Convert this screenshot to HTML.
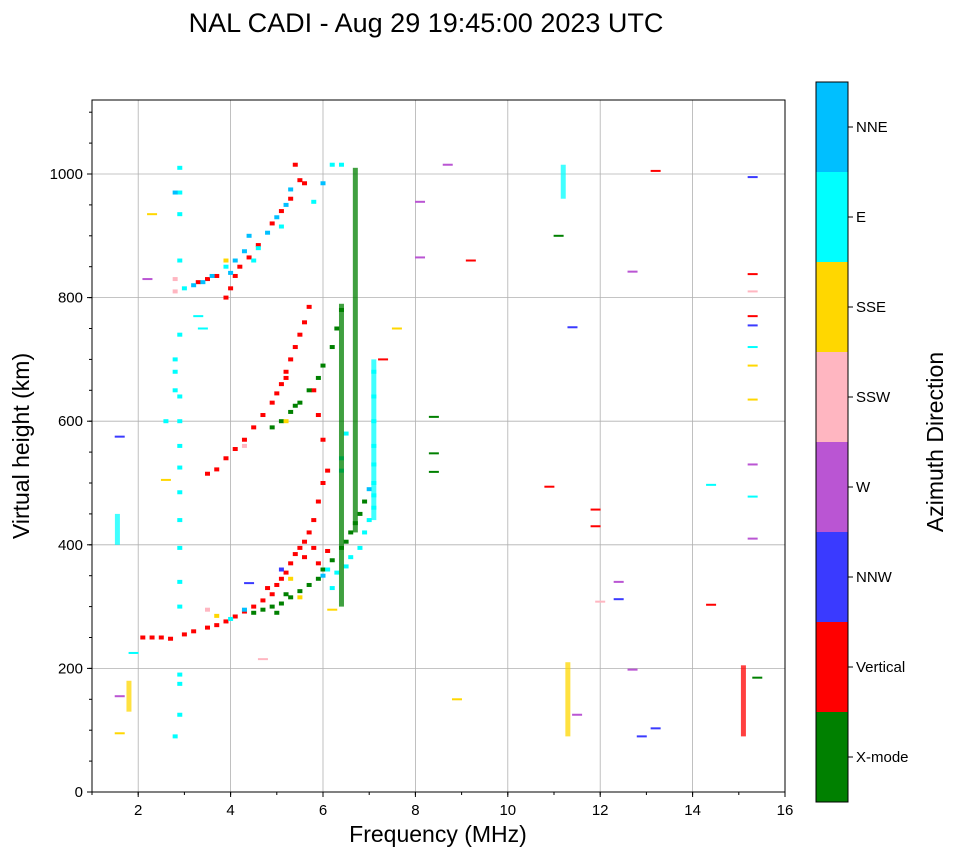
<!DOCTYPE html>
<html><head><meta charset="utf-8"><style>
body{margin:0;background:#fff;width:958px;height:857px;overflow:hidden;font-family:"Liberation Sans","DejaVu Sans",sans-serif}
</style></head><body>
<svg id="chart" width="958" height="857" xmlns="http://www.w3.org/2000/svg" font-family="Liberation Sans, DejaVu Sans, sans-serif">
<text x="426" y="32" font-size="27" text-anchor="middle">NAL CADI - Aug 29 19:45:00 2023 UTC</text>
<g id="grid"></g><g id="marks"></g><g id="axes"></g><g id="cbar"></g>
</svg>
<script>
const xTicks=[2,4,6,8,10,12,14,16];
const yTicks=[0,200,400,600,800,1000];
const categories=["X-mode","Vertical","NNW","W","SSW","SSE","E","NNE"];
const catColors=["#008000","#ff0000","#3a3aff","#ba55d3","#ffb6c1","#ffd700","#00ffff","#00bfff"];
const oTrace1=[[2.1,250,1],[2.3,250,1],[2.5,250,1],[2.7,248,1],[3.0,255,1],[3.2,260,1],[3.5,266,1],[3.7,270,1],[3.9,276,1],[4.1,284,1],[4.3,292,1],[4.5,300,1],[4.7,310,1],[4.9,320,1],[5.0,335,1],[5.1,345,1],[5.2,355,1],[5.3,370,1],[5.4,385,1],[5.5,395,1],[5.6,405,1],[5.7,420,1],[5.8,440,1],[5.9,470,1],[6.0,500,1],[5.1,360,2],[4.8,330,1],[5.3,345,5],[5.6,380,1],[5.8,395,1],[6.1,390,1],[5.9,370,1]];
const xTrace1=[[4.5,290,0],[4.7,295,0],[4.9,300,0],[5.1,305,0],[5.3,315,0],[5.5,325,0],[5.7,335,0],[5.9,345,0],[6.0,360,0],[6.2,375,0],[6.4,395,0],[6.5,405,0],[6.6,420,0],[6.7,435,0],[6.8,450,0],[6.9,470,0],[5.0,290,0],[5.5,315,5],[5.2,320,0],[3.5,295,4],[3.7,285,5],[4.0,280,6],[4.3,295,7]];
const eTrace=[[6.1,360,6],[6.3,355,6],[6.5,365,6],[6.6,380,6],[6.8,395,6],[6.9,420,6],[7.0,440,6],[7.1,460,6],[7.1,480,6],[7.1,500,6],[7.1,530,6],[7.1,560,6],[7.1,600,6],[7.1,640,6],[7.1,680,6],[6.4,540,6],[6.4,520,6],[6.5,580,6],[6.0,350,7],[6.2,330,6],[7.0,490,7]];
const oTrace2=[[3.5,515,1],[3.7,522,1],[3.9,540,1],[4.1,555,1],[4.3,570,1],[4.5,590,1],[4.7,610,1],[4.9,630,1],[5.0,645,1],[5.1,660,1],[5.2,680,1],[5.3,700,1],[5.4,720,1],[5.5,740,1],[5.6,760,1],[5.7,785,1],[4.3,560,4],[5.2,670,1],[5.8,650,1],[5.9,610,1],[6.0,570,1],[6.1,520,1]];
const xTrace2=[[4.9,590,0],[5.1,600,0],[5.3,615,0],[5.5,630,0],[5.7,650,0],[5.9,670,0],[6.0,690,0],[6.2,720,0],[6.3,750,0],[6.4,780,0],[5.2,600,5],[5.4,625,0]];
const oTrace3=[[3.3,825,1],[3.5,830,1],[3.7,835,1],[3.9,800,1],[4.0,815,1],[4.1,835,1],[4.2,850,1],[4.4,865,1],[4.6,885,1],[4.9,920,1],[5.1,940,1],[5.3,960,1],[5.5,990,1],[5.4,1015,1],[3.9,860,5],[5.6,985,1]];
const cTrace3=[[3.0,815,6],[3.2,820,7],[3.6,835,7],[3.9,850,6],[4.1,860,7],[4.3,875,7],[4.4,900,7],[4.6,880,6],[4.8,905,7],[5.0,930,7],[5.2,950,7],[5.3,975,7],[5.1,915,6],[4.5,860,6],[6.2,1015,6],[6.4,1015,6],[6.0,985,7],[5.8,955,6],[3.4,825,7],[4.0,840,7]];
const col29=[[2.9,125,6],[2.9,175,6],[2.9,190,6],[2.9,300,6],[2.9,340,6],[2.9,395,6],[2.9,440,6],[2.9,485,6],[2.9,525,6],[2.9,560,6],[2.9,600,6],[2.9,640,6],[2.8,650,6],[2.8,680,6],[2.8,700,6],[2.9,740,6],[2.8,810,4],[2.8,830,4],[2.9,860,6],[2.9,935,6],[2.9,970,6],[2.9,1010,6],[2.8,970,7],[2.8,90,6],[2.6,600,6]];
const columns=[[6.7,420,1010,0],[6.4,300,790,0],[7.1,440,700,6],[11.3,90,210,5],[11.2,960,1015,6],[15.1,90,205,1],[1.55,400,450,6],[1.8,130,180,5]];
const dashes=[[8.7,1015,3],[13.2,1005,1],[15.3,995,2],[8.1,955,3],[11.1,900,0],[8.1,865,3],[9.2,860,1],[12.7,842,3],[15.3,838,1],[15.3,810,4],[15.3,770,1],[15.3,755,2],[11.4,752,2],[7.6,750,5],[15.3,720,6],[15.3,690,5],[7.3,700,1],[15.3,635,5],[8.4,607,0],[8.4,548,0],[8.4,518,0],[15.3,530,3],[14.4,497,6],[10.9,494,1],[15.3,478,6],[11.9,457,1],[11.9,430,1],[15.3,410,3],[12.4,340,3],[12.4,312,2],[12.0,308,4],[14.4,303,1],[6.2,295,5],[12.7,198,3],[15.4,185,0],[8.9,150,5],[11.5,125,3],[13.2,103,2],[12.9,90,2],[1.6,575,2],[1.6,155,3],[1.6,95,5],[2.2,830,3],[1.9,225,6],[2.3,935,5],[4.7,215,4],[4.4,338,2],[2.6,505,5],[3.4,750,6],[3.3,770,6]];
const X=f=>92+(f-1)*(693/15), Y=h=>792-h*0.618;
const NS="http://www.w3.org/2000/svg";
function mk(tag,attrs,parent){const e=document.createElementNS(NS,tag);for(const k in attrs)e.setAttribute(k,attrs[k]);parent.appendChild(e);return e;}
const grid=document.getElementById('grid'),marks=document.getElementById('marks'),axes=document.getElementById('axes'),cbar=document.getElementById('cbar');
mk('rect',{x:92,y:100,width:693,height:692,fill:'#fff'},grid);
xTicks.forEach(t=>{const l=mk('line',{x1:X(t),x2:X(t),y1:100,y2:792,stroke:'#b0b0b0','stroke-width':0.8},grid);});
yTicks.forEach(t=>{const l=mk('line',{x1:92,x2:785,y1:Y(t),y2:Y(t),stroke:'#b0b0b0','stroke-width':0.8},grid);});
[oTrace1,xTrace1,eTrace,oTrace2,xTrace2,oTrace3,cTrace3,col29].forEach(arr=>arr.forEach(p=>{
const r=mk('rect',{x:X(p[0])-2.5,y:Y(p[1])-2,width:5,height:4,fill:catColors[p[2]]},marks);

}));
columns.forEach(c=>{const r=mk('rect',{x:X(c[0])-2.5,y:Y(c[2]),width:5,height:Y(c[1])-Y(c[2]),fill:catColors[c[3]],opacity:0.75},marks);

});
dashes.forEach(d=>{const r=mk('rect',{x:X(d[0])-5,y:Y(d[1])-1,width:10,height:2,fill:catColors[d[2]]},marks);

});
mk('rect',{x:92,y:100,width:693,height:692,fill:'none',stroke:'#000','stroke-width':1},axes);
for(let v=1;v<=16;v++){mk('line',{x1:X(v),x2:X(v),y1:792,y2:795,stroke:'#000'},axes);}
for(let v=0;v<=1100;v+=50){mk('line',{x1:89,x2:92,y1:Y(v),y2:Y(v),stroke:'#000'},axes);}
xTicks.forEach(t=>{mk('line',{x1:X(t),x2:X(t),y1:792,y2:797,stroke:'#000'},axes);const tx=mk('text',{x:X(t),y:815,'font-size':15,'text-anchor':'middle'},axes);tx.textContent=t;});
yTicks.forEach(t=>{mk('line',{x1:87,x2:92,y1:Y(t),y2:Y(t),stroke:'#000'},axes);const tx=mk('text',{x:83,y:Y(t)+5,'font-size':15,'text-anchor':'end'},axes);tx.textContent=t;});
const xt=mk('text',{x:438,y:842,'font-size':23,'text-anchor':'middle'},axes);xt.textContent='Frequency (MHz)';
const yt=mk('text',{x:0,y:0,'font-size':23,'text-anchor':'middle',transform:'translate(29,446) rotate(-90)'},axes);yt.textContent='Virtual height (km)';
categories.forEach((c,i)=>{const y0=802-(i+1)*90;const r=mk('rect',{x:816,y:y0,width:32,height:90,fill:catColors[i]},cbar);
mk('line',{x1:848,x2:853,y1:y0+45,y2:y0+45,stroke:'#000'},cbar);
const t=mk('text',{x:856,y:y0+50,'font-size':15},cbar);t.textContent=c;});
mk('rect',{x:816,y:82,width:32,height:720,fill:'none',stroke:'#000'},cbar);
const ct=mk('text',{x:0,y:0,'font-size':23,'text-anchor':'middle',transform:'translate(943,442) rotate(-90)'},cbar);ct.textContent='Azimuth Direction';
</script>
</body></html>
